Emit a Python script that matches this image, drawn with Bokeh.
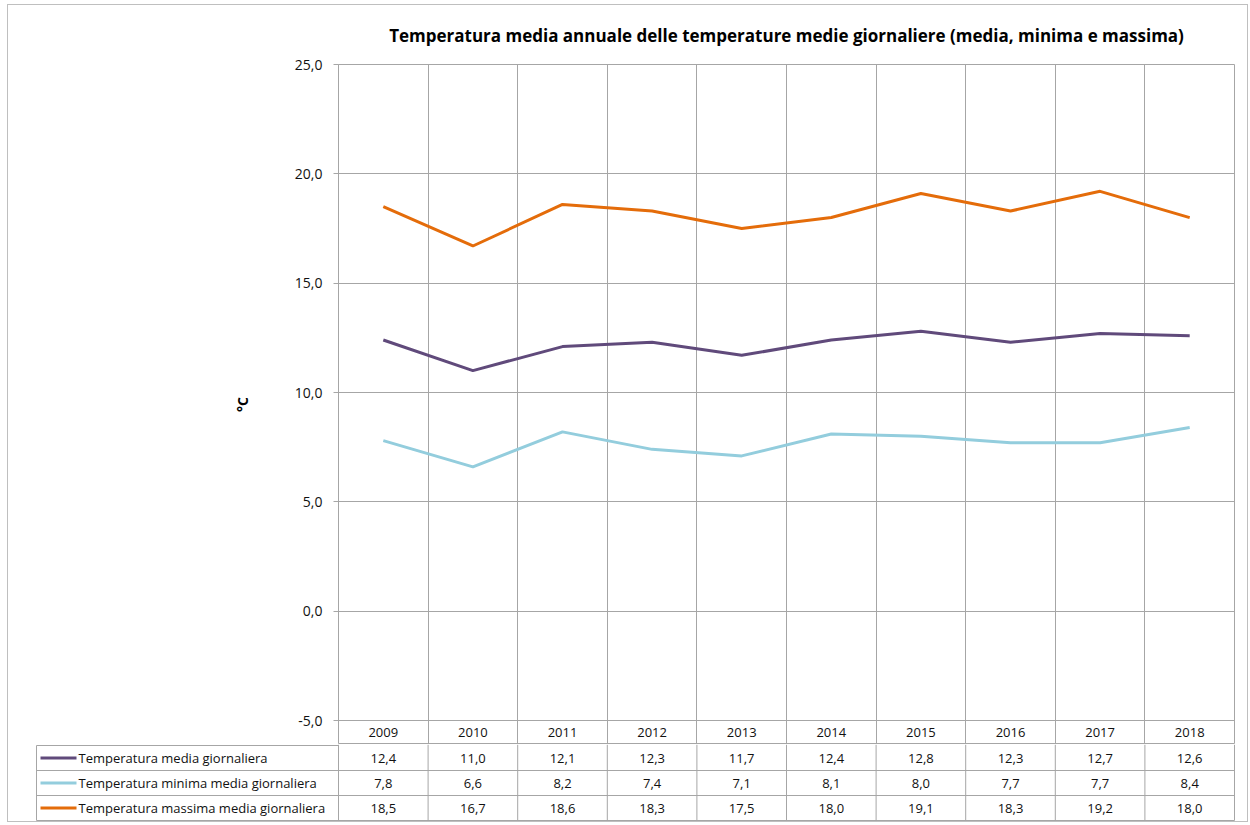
from bokeh.plotting import figure
from bokeh.models import Range1d, FixedTicker, CustomJSTickFormatter, Grid, InlineStyleSheet
from bokeh.layouts import column
from bokeh.core.properties import value
from bokeh.embed import file_html
from bokeh.resources import INLINE

# ---------------- data ----------------
years = ["2009", "2010", "2011", "2012", "2013", "2014", "2015", "2016", "2017", "2018"]
media = [12.4, 11.0, 12.1, 12.3, 11.7, 12.4, 12.8, 12.3, 12.7, 12.6]
minima = [7.8, 6.6, 8.2, 7.4, 7.1, 8.1, 8.0, 7.7, 7.7, 8.4]
massima = [18.5, 16.7, 18.6, 18.3, 17.5, 18.0, 19.1, 18.3, 19.2, 18.0]
series_names = [
    "Temperatura media giornaliera",
    "Temperatura minima media giornaliera",
    "Temperatura massima media giornaliera",
]
series_values = [media, minima, massima]
series_colors = ["#604A7B", "#93CDDD", "#E46C0A"]
y_ticks = [-5, 0, 5, 10, 15, 20, 25]
title_text = "Temperatura media annuale delle temperature medie giornaliere (media, minima e massima)"
y_label = "°C"

FONT = "Open Sans"
GRID_COL = "#A6A6A6"
TXT_COL = "#111111"

n = len(years)
xs = [i + 0.5 for i in range(n)]

# layout constants (pixels)
W = 1248
TOP = 64
LEFT = 338
PLOT_H = 656          # height of the -5..25 area
YEAR_ROW = 24         # year row height (part of chart frame)
COL_W = 896 / n
LEG_W = 302.0
ROW_H = 25.0

ymin, ymax = min(y_ticks), max(y_ticks)
k = (ymax - ymin) / PLOT_H   # data units per pixel
y_bottom = ymin - YEAR_ROW * k

# ---------------- chart ----------------
p = figure(width=W, height=TOP + PLOT_H + YEAR_ROW, x_range=Range1d(0, n), y_range=Range1d(y_bottom, ymax),
           output_backend="svg", toolbar_location=None, x_axis_location=None,
           min_border_left=LEFT, min_border_right=14, min_border_top=TOP, min_border_bottom=0,
           frame_align=False)
p.background_fill_color = "white"
p.border_fill_color = "white"
p.outline_line_color = GRID_COL
p.outline_line_width = 1
p.outline_line_alpha = 1.0

p.title.text = title_text
p.title.align = "center"
p.title.text_font = FONT
p.title.text_font_size = "17px"
p.title.text_font_style = "bold"
p.title.text_color = "#000000"
p.title.standoff = 36

p.xgrid.visible = False
p.add_layout(Grid(dimension=0, ticker=FixedTicker(ticks=list(range(1, n))),
                  grid_line_color=GRID_COL, grid_line_width=1))

ya = p.yaxis[0]
ya.bounds = (ymin, ymax)
ya.ticker = FixedTicker(ticks=y_ticks)
ya.formatter = CustomJSTickFormatter(code="return tick.toFixed(1).replace('.', ',');")
ya.major_label_text_font = FONT
ya.major_label_text_font_size = "14px"
ya.major_label_text_color = TXT_COL
ya.major_label_standoff = 11
ya.axis_line_color = GRID_COL
ya.major_tick_line_color = GRID_COL
ya.major_tick_in = 0
ya.major_tick_out = 5
ya.minor_tick_line_color = None
ya.axis_label = y_label
ya.axis_label_text_font = FONT
ya.axis_label_text_font_size = "14px"
ya.axis_label_text_font_style = "bold"
ya.axis_label_text_color = "#000000"
ya.axis_label_standoff = 40

p.ygrid.grid_line_color = GRID_COL
p.ygrid.grid_line_width = 1

for vals, col in zip(series_values, series_colors):
    p.line(x=xs, y=vals, line_color=col, line_width=3)

# year row (inside chart frame, below -5)
p.text(x=xs, y=[ymin - YEAR_ROW * k / 2] * n, text=years, text_align="center", text_baseline="middle",
       text_font=value(FONT), text_font_size="13px", text_color=TXT_COL)

# ---------------- data table (series rows) ----------------
L = LEG_W / COL_W
padx = 1.0 / COL_W
pady = 1.0 / ROW_H
nrows = len(series_names)

t = figure(width=W, height=int(nrows * ROW_H) + 3, x_range=Range1d(-L - padx, n + padx),
           y_range=Range1d(nrows + pady, -pady),
           output_backend="svg", toolbar_location=None, x_axis_location=None, y_axis_location=None,
           min_border_left=35, min_border_right=13, min_border_top=0, min_border_bottom=1,
           frame_align=False)
t.outline_line_color = None
t.background_fill_color = "white"
t.border_fill_color = "white"
t.grid.visible = False

# horizontal lines
hx0 = [-L] * (nrows + 1)
hx1 = [0.0] + [float(n)] * nrows
hy = list(range(nrows + 1))
t.segment(x0=hx0, y0=hy, x1=hx1, y1=hy, line_color=GRID_COL, line_width=1)
# vertical lines
vx = [float(i) for i in range(n + 1)] + [-L]
vy0 = [-pady] * (n + 1) + [0.0]
vy1 = [float(nrows)] * (n + 2)
t.segment(x0=vx, y0=vy0, x1=vx, y1=vy1, line_color=GRID_COL, line_width=1)

for r, (name, vals, col) in enumerate(zip(series_names, series_values, series_colors)):
    yrow = r + 0.5
    labels = [f"{v:.1f}".replace(".", ",") for v in vals]
    t.text(x=xs, y=[yrow] * n, text=labels, text_align="center", text_baseline="middle",
           text_font=value(FONT), text_font_size="13px", text_color=TXT_COL)
    t.segment(x0=[-L + 4 / COL_W], y0=[yrow], x1=[-L + 40 / COL_W], y1=[yrow],
              line_color=col, line_width=3)
    t.text(x=[-L], y=[yrow], text=[name], x_offset=42, text_align="left", text_baseline="middle",
           text_font=value(FONT), text_font_size="13px", text_color=TXT_COL)

border_css = InlineStyleSheet(css="""
:host { position: relative; }
:host::after {
  content: ''; position: absolute; left: 7px; top: 4px; width: 1241px; height: 818px;
  box-sizing: border-box; border: 1px solid #BFBFBF; pointer-events: none;
}
""")

layout = column(p, t, spacing=0, stylesheets=[border_css])

with open("out.html", "w") as f:
    f.write(file_html(layout, INLINE))
